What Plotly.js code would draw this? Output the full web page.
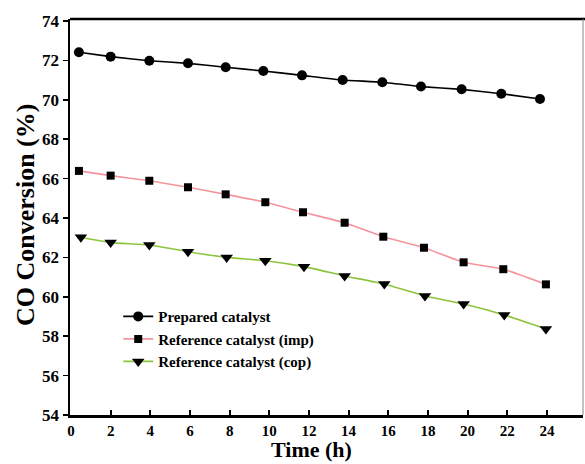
<!DOCTYPE html>
<html>
<head>
<meta charset="utf-8">
<script src="https://cdn.plot.ly/plotly-3.0.1.min.js"></script>
<style>html,body{margin:0;padding:0;background:#fff;}#chart{width:585px;height:464px;}</style>
</head>
<body>
<div id="chart"></div>
<script>
// Data
const timePrepared = [0.4, 2.0, 3.95, 5.9, 7.8, 9.7, 11.65, 13.7, 15.7, 17.65, 19.7, 21.7, 23.65];
const convPrepared = [72.41, 72.19, 71.98, 71.85, 71.65, 71.46, 71.24, 71.0, 70.89, 70.67, 70.53, 70.31, 70.04];

const timeImp = [0.4, 2.0, 3.95, 5.9, 7.8, 9.8, 11.7, 13.8, 15.75, 17.8, 19.8, 21.8, 23.95];
const convImp = [66.39, 66.15, 65.89, 65.56, 65.2, 64.8, 64.29, 63.76, 63.05, 62.49, 61.75, 61.4, 60.63];

const timeCop = [0.5, 2.0, 3.95, 5.9, 7.85, 9.8, 11.75, 13.8, 15.8, 17.85, 19.8, 21.85, 23.95];
const convCop = [63.02, 62.75, 62.63, 62.29, 62.0, 61.83, 61.53, 61.06, 60.65, 60.04, 59.63, 59.08, 58.37];

const seriesNames = ['Prepared catalyst', 'Reference catalyst (imp)', 'Reference catalyst (cop)'];
const xTicks = [0, 2, 4, 6, 8, 10, 12, 14, 16, 18, 20, 22, 24];
const yTicks = [54, 56, 58, 60, 62, 64, 66, 68, 70, 72, 74];
const xTitle = 'Time (h)';
const yTitle = 'CO Conversion (%)';

const serif = '"Liberation Serif", "Times New Roman", serif';

const traces = [
  {x: timePrepared, y: convPrepared, name: seriesNames[0], mode: 'lines+markers',
   line: {color: '#000000', width: 1.6, shape: 'spline', smoothing: 0.4},
   marker: {symbol: 'circle', size: 10, color: '#000000'}},
  {x: timeImp, y: convImp, name: seriesNames[1], mode: 'lines+markers',
   line: {color: '#f4949c', width: 1.6, shape: 'spline', smoothing: 0.4},
   marker: {symbol: 'square', size: 8, color: '#000000'}},
  {x: timeCop, y: convCop, name: seriesNames[2], mode: 'lines+markers',
   line: {color: '#8cc43c', width: 1.6, shape: 'spline', smoothing: 0.4},
   marker: {symbol: 'triangle-down', size: 11, color: '#000000'}}
];

const layout = {
  width: 585, height: 464,
  margin: {l: 70, r: 2, t: 19, b: 49, pad: 0},
  paper_bgcolor: '#ffffff', plot_bgcolor: '#ffffff',
  font: {family: serif, color: '#000000'},
  showlegend: true,
  legend: {x: 0.094, y: 0.29, xanchor: 'left', yanchor: 'top',
    bgcolor: 'rgba(0,0,0,0)', borderwidth: 0,
    font: {family: serif, size: 15, color: '#000000', weight: 'bold'}},
  xaxis: {range: [-0.05, 25.82], tickvals: xTicks, ticktext: xTicks.map(String),
    ticks: 'inside', ticklen: 5, tickwidth: 2, tickcolor: '#000',
    showline: true, linewidth: 2.5, linecolor: '#000', showgrid: false, zeroline: false,
    tickfont: {family: serif, size: 15, color: '#000', weight: 'bold'}},
  yaxis: {range: [54, 74.1], tickvals: yTicks, ticktext: yTicks.map(String),
    ticks: 'outside', ticklen: 5, tickwidth: 1.5, tickcolor: '#000',
    showline: true, linewidth: 2.5, linecolor: '#000', showgrid: false, zeroline: false,
    tickfont: {family: serif, size: 17, color: '#000', weight: 'bold'}},
  shapes: [
    {type: 'line', xref: 'paper', yref: 'paper', x0: 0, x1: 1.005, y0: 1, y1: 1,
     line: {color: '#000', width: 2.5}},
    {type: 'line', xref: 'paper', yref: 'paper', x0: 1, x1: 1, y0: 0, y1: 1,
     line: {color: '#888', width: 1}}
  ],
  annotations: [
    {text: xTitle, xref: 'paper', yref: 'paper', x: (311 - 70) / 513, y: -(464 - 415) / 396,
     xanchor: 'center', yanchor: 'bottom', showarrow: false,
     font: {family: serif, size: 22, color: '#000', weight: 'bold'}},
    {text: yTitle, xref: 'paper', yref: 'paper', x: (25 - 70) / 513, y: (415 - 215) / 396,
     xanchor: 'center', yanchor: 'middle', textangle: -90, showarrow: false,
     font: {family: serif, size: 26, color: '#000', weight: 'bold'}}
  ]
};

Plotly.newPlot('chart', traces, layout, {staticPlot: true, displayModeBar: false});
</script>
</body>
</html>
